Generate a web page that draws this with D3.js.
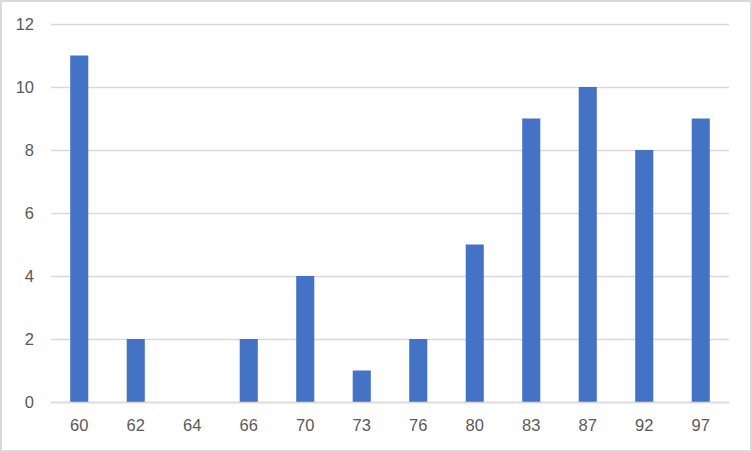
<!DOCTYPE html>
<html><head><meta charset="utf-8">
<script src="https://cdn.jsdelivr.net/npm/d3@7"></script>
<style>body{margin:0;background:#fff}svg{display:block}</style>
</head><body>
<svg id="c" width="752" height="452"></svg>
<script>
const categories = ["60","62","64","66","70","73","76","80","83","87","92","97"];
const values = [11,2,0,2,4,1,2,5,9,10,8,9];
const yTicks = [0,2,4,6,8,10,12];

const svg = d3.select("#c");
svg.append("rect").attr("x",1).attr("y",1).attr("width",750).attr("height",450)
  .attr("fill","#fff").attr("stroke","#d9d9d9").attr("stroke-width",2);

const x = d3.scaleBand().domain(categories).range([51,729]).paddingInner(0.68).paddingOuter(0.34);
const y = d3.scaleLinear().domain([0,12]).range([402,24]);

const font = "'Liberation Sans', Arial, sans-serif";
const yAxis = d3.axisLeft(y).tickValues(yTicks).tickSize(-(729-51)).tickPadding(17);
const gy = svg.append("g").attr("transform","translate(51,0)").call(yAxis);
gy.select(".domain").remove();
gy.selectAll(".tick line").attr("stroke","#d9d9d9").attr("stroke-width",1.3);
gy.selectAll(".tick text").attr("fill","#595959").style("font-family",font).style("font-size","16.5px");

svg.append("g").selectAll("rect").data(values).join("rect")
  .attr("x",(d,i)=>x(categories[i])).attr("width",x.bandwidth())
  .attr("y",d=>y(d)).attr("height",d=>y(0)-y(d)).attr("fill","#4472c4");

const xAxis = d3.axisBottom(x).tickSize(0).tickPadding(17);
const gx = svg.append("g").attr("transform","translate(0,402)").call(xAxis);
gx.select(".domain").attr("stroke","#d9d9d9").attr("stroke-width",1.3);
gx.selectAll(".tick text").attr("fill","#595959").style("font-family",font).style("font-size","16.5px");
</script>
</body></html>
